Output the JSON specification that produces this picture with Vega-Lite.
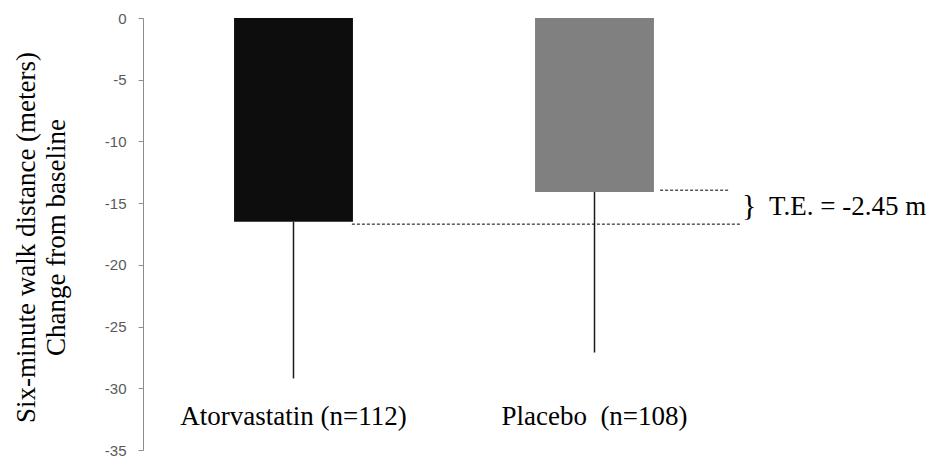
{
  "$schema": "https://vega.github.io/schema/vega-lite/v6.json",
  "autosize": "none",
  "width": 602,
  "height": 432,
  "padding": {"left": 143, "top": 18, "right": 189, "bottom": 7},
  "background": "white",
  "config": {"view": {"stroke": null}},
  "datasets": {
    "bars": [
      {"group": "Atorvastatin (n=112)", "mean": -16.5, "lower": -29.2},
      {"group": "Placebo\u00a0\u00a0(n=108)", "mean": -14.1, "lower": -27.1}
    ],
    "lines": [
      {"x": 0.694, "x2": 1.983, "y": -16.7},
      {"x": 1.718, "x2": 1.944, "y": -13.95}
    ],
    "brace": [
      {"x": 1.99, "y": -15.2, "label": "}"}
    ],
    "notes": [
      {"x": 2.08, "y": -16.0, "label": "T.E. = -2.45 m"}
    ]
  },
  "resolve": {"scale": {"x": "independent"}},
  "layer": [
    {
      "data": {"name": "bars"},
      "layer": [
        {
          "mark": {"type": "bar"},
          "encoding": {
            "x": {"field": "group", "type": "nominal", "sort": null, "axis": null,
                  "scale": {"paddingInner": 0.605, "paddingOuter": 0.3025}},
            "y": {"field": "mean", "type": "quantitative",
                  "scale": {"domain": [-35, 0], "nice": false},
                  "axis": {
                    "values": [0, -5, -10, -15, -20, -25, -30, -35],
                    "labelExpr": "'' + datum.value",
                    "grid": false,
                    "domainColor": "#8c8c8c",
                    "tickColor": "#8c8c8c",
                    "tickSize": 5,
                    "labelFont": "Liberation Sans",
                    "labelFontSize": 15,
                    "labelColor": "#595959",
                    "labelPadding": 12,
                    "title": ["Six-minute walk distance (meters)", "Change from baseline"],
                    "titleFont": "Liberation Serif",
                    "titleFontSize": 27,
                    "titleFontWeight": "normal",
                    "titleColor": "#000000",
                    "titleLineHeight": 30,
                    "titleX": -117,
                    "titleY": 219,
                    "titleAngle": -90,
                    "titleAlign": "center",
                    "titleBaseline": "middle"
                  }},
            "y2": {"datum": 0},
            "color": {"field": "group", "type": "nominal", "legend": null,
                      "scale": {"range": ["#0d0d0d", "#808080"]}}
          }
        },
        {
          "mark": {"type": "rule", "color": "#1a1a1a", "strokeWidth": 1.5},
          "encoding": {
            "x": {"field": "group", "type": "nominal", "sort": null},
            "y": {"field": "mean", "type": "quantitative"},
            "y2": {"field": "lower"}
          }
        },
        {
          "mark": {"type": "text", "font": "Liberation Serif", "fontSize": 27, "color": "#000000", "align": "center", "baseline": "alphabetic"},
          "encoding": {
            "x": {"field": "group", "type": "nominal", "sort": null},
            "y": {"datum": -33},
            "text": {"field": "group"}
          }
        }
      ]
    },
    {
      "data": {"name": "lines"},
      "mark": {"type": "rule", "color": "#000000", "strokeWidth": 1, "strokeDash": [3, 2]},
      "encoding": {
        "x": {"field": "x", "type": "quantitative", "axis": null,
              "scale": {"domain": [0, 2], "nice": false, "zero": false}},
        "x2": {"field": "x2"},
        "y": {"field": "y", "type": "quantitative"}
      }
    },
    {
      "data": {"name": "brace"},
      "mark": {"type": "text", "font": "Liberation Serif", "fontSize": 30, "color": "#000000", "align": "left", "baseline": "middle"},
      "encoding": {
        "x": {"field": "x", "type": "quantitative", "axis": null,
              "scale": {"domain": [0, 2], "nice": false, "zero": false}},
        "y": {"field": "y", "type": "quantitative"},
        "text": {"field": "label"}
      }
    },
    {
      "data": {"name": "notes"},
      "mark": {"type": "text", "font": "Liberation Serif", "fontSize": 27, "color": "#000000", "align": "left", "baseline": "alphabetic"},
      "encoding": {
        "x": {"field": "x", "type": "quantitative", "axis": null,
              "scale": {"domain": [0, 2], "nice": false, "zero": false}},
        "y": {"field": "y", "type": "quantitative"},
        "text": {"field": "label"}
      }
    }
  ]
}
